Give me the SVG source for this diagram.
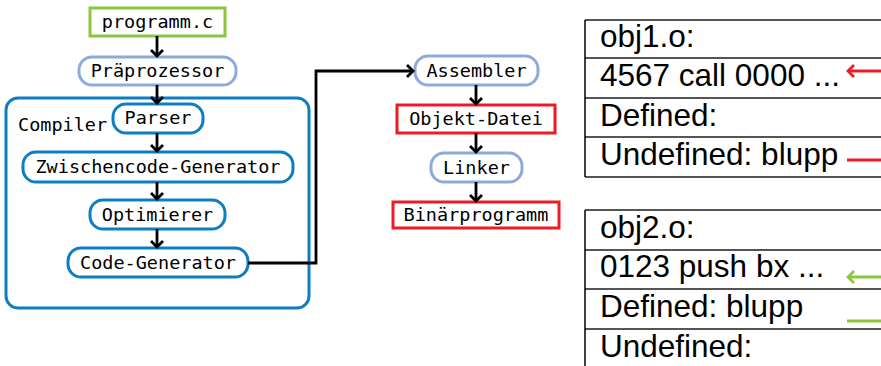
<svg xmlns="http://www.w3.org/2000/svg" width="881" height="366" viewBox="0 0 881 366">
<defs>
<style>
.mono{font-family:"DejaVu Sans Mono","Liberation Mono",monospace;font-size:18.5px;fill:#000;text-anchor:middle}
.lbl{font-family:"DejaVu Sans Mono","Liberation Mono",monospace;font-size:18.5px;fill:#000}
.tab{font-family:"Liberation Sans",Arial,sans-serif;font-size:31.5px;fill:#000}
.green{fill:#fff;stroke:#8cc63f;stroke-width:3}
.lblue{fill:#fff;stroke:#8eaadb;stroke-width:3}
.blue{fill:#fff;stroke:#0e7dc2;stroke-width:3}
.red{fill:#fff;stroke:#ed1c24;stroke-width:3}
.conn{fill:none;stroke:#000;stroke-width:2.8}
.row{stroke:#555;stroke-width:1.8;fill:none}
</style>
<marker id="ah" viewBox="-8 -8 10 16" refX="0" refY="0" markerWidth="10" markerHeight="16" markerUnits="userSpaceOnUse" orient="auto">
<path d="M-6,-6 L0,0 L-6,6" fill="none" stroke="#000" stroke-width="2.8"/>
</marker>
<marker id="ahr" viewBox="-8 -8 10 16" refX="0" refY="0" markerWidth="10" markerHeight="16" markerUnits="userSpaceOnUse" orient="auto">
<path d="M-6,-6 L0,0 L-6,6" fill="none" stroke="#ed1c24" stroke-width="2.8"/>
</marker>
<marker id="ahg" viewBox="-8 -8 10 16" refX="0" refY="0" markerWidth="10" markerHeight="16" markerUnits="userSpaceOnUse" orient="auto">
<path d="M-6,-6 L0,0 L-6,6" fill="none" stroke="#8cc63f" stroke-width="2.8"/>
</marker>
</defs>
<rect width="881" height="366" fill="#fff"/>

<g id="compiler">
<rect x="6" y="98" width="303" height="210" rx="12" fill="none" stroke="#0e7dc2" stroke-width="3"/>
<text class="lbl" x="18" y="131">Compiler</text>
</g>

<g id="programm">
<rect class="green" x="90" y="8" width="135" height="28"/>
<text class="mono" x="157.5" y="28">programm.c</text>
</g>
<g id="praeprozessor">
<rect class="lblue" x="79" y="57" width="157" height="28" rx="13"/>
<text class="mono" x="157.5" y="77">Präprozessor</text>
</g>
<g id="parser">
<rect class="blue" x="113" y="104" width="90" height="29" rx="13"/>
<text class="mono" x="158" y="124">Parser</text>
</g>
<g id="zwischencode">
<rect class="blue" x="23" y="152" width="270" height="30" rx="13"/>
<text class="mono" x="158" y="173">Zwischencode-Generator</text>
</g>
<g id="optimierer">
<rect class="blue" x="90" y="200" width="135" height="29" rx="13"/>
<text class="mono" x="157.5" y="221">Optimierer</text>
</g>
<g id="codegen">
<rect class="blue" x="68" y="248" width="180" height="29" rx="13"/>
<text class="mono" x="158" y="269">Code-Generator</text>
</g>

<g id="assembler">
<rect class="lblue" x="415" y="56" width="123" height="29" rx="13"/>
<text class="mono" x="476.5" y="77">Assembler</text>
</g>
<g id="objekt">
<rect class="red" x="397" y="105" width="158" height="28"/>
<text class="mono" x="476" y="125">Objekt-Datei</text>
</g>
<g id="linker">
<rect class="lblue" x="431" y="153" width="91" height="29" rx="13"/>
<text class="mono" x="476.5" y="174">Linker</text>
</g>
<g id="binaer">
<rect class="red" x="393" y="202" width="166" height="26"/>
<text class="mono" x="476" y="221">Binärprogramm</text>
</g>

<g id="connectors">
<line class="conn" x1="157" y1="36" x2="157" y2="56" marker-end="url(#ah)"/>
<line class="conn" x1="157" y1="85" x2="157" y2="103" marker-end="url(#ah)"/>
<line class="conn" x1="157" y1="133" x2="157" y2="151" marker-end="url(#ah)"/>
<line class="conn" x1="157" y1="182" x2="157" y2="199" marker-end="url(#ah)"/>
<line class="conn" x1="157" y1="229" x2="157" y2="247" marker-end="url(#ah)"/>
<polyline class="conn" points="248,263 316,263 316,71 413,71" marker-end="url(#ah)"/>
<line class="conn" x1="476" y1="85" x2="476" y2="104" marker-end="url(#ah)"/>
<line class="conn" x1="476" y1="133" x2="476" y2="152" marker-end="url(#ah)"/>
<line class="conn" x1="476" y1="182" x2="476" y2="201" marker-end="url(#ah)"/>
</g>

<g id="obj1">
<path class="row" d="M585,20 H881 M585,58 H881 M585,98 H881 M585,137 H881 M585,177 H881"/>
<line x1="585" y1="20" x2="585" y2="177" stroke="#000" stroke-width="1.5"/>
<text class="tab" x="600" y="47">obj1.o:</text>
<text class="tab" x="600" y="86">4567 call 0000 ...</text>
<text class="tab" x="600" y="126">Defined:</text>
<text class="tab" x="600" y="165">Undefined: blupp</text>
<line x1="881" y1="71" x2="848" y2="71" stroke="#ed1c24" stroke-width="2.8" marker-end="url(#ahr)"/>
<line x1="847" y1="160" x2="881" y2="160" stroke="#ed1c24" stroke-width="2.8"/>
</g>

<g id="obj2">
<path class="row" d="M585,210 H881 M585,250 H881 M585,289 H881 M585,329 H881"/>
<line x1="585" y1="210" x2="585" y2="366" stroke="#000" stroke-width="1.5"/>
<text class="tab" x="600" y="238">obj2.o:</text>
<text class="tab" x="600" y="277">0123 push bx ...</text>
<text class="tab" x="600" y="317">Defined: blupp</text>
<text class="tab" x="600" y="357">Undefined:</text>
<line x1="881" y1="277" x2="848" y2="277" stroke="#8cc63f" stroke-width="2.8" marker-end="url(#ahg)"/>
<line x1="847" y1="321" x2="881" y2="321" stroke="#8cc63f" stroke-width="2.8"/>
</g>
</svg>
